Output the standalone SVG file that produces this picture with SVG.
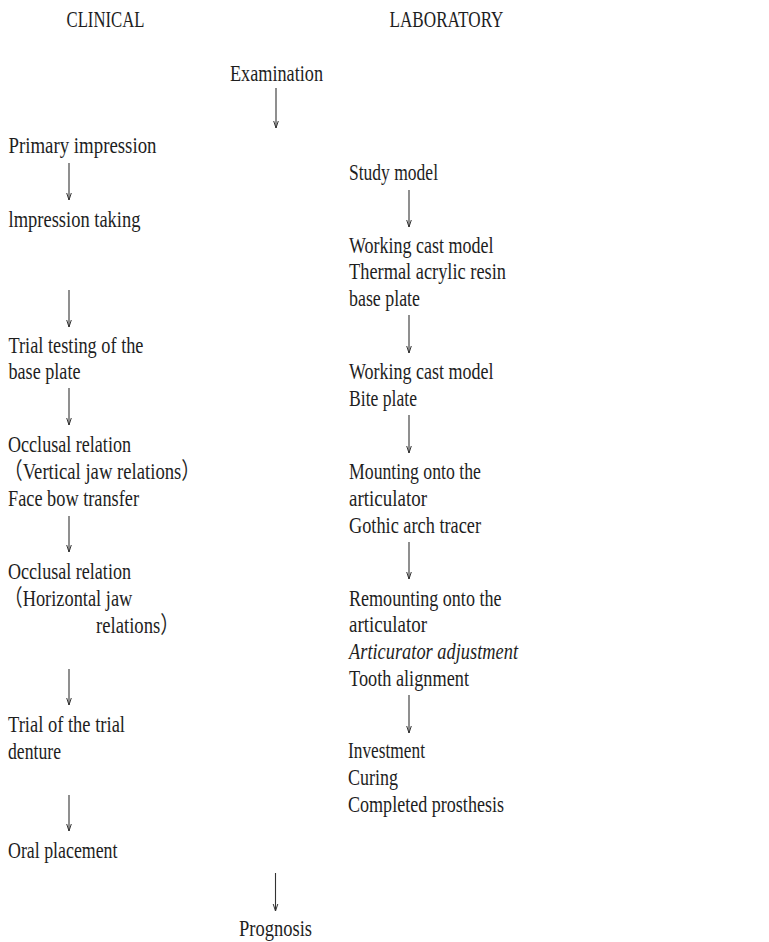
<svg xmlns="http://www.w3.org/2000/svg" width="769" height="942" viewBox="0 0 769 942">
<style>
  text { font-family: "Liberation Serif", "Noto Sans CJK JP", serif; font-size: 23px; fill: #1e1e1e; }
  .it { font-style: italic; }
  .arrow { stroke: #333; stroke-width: 1.1; fill: none; }
</style>
<defs>
  <marker id="ah" markerWidth="10" markerHeight="8" refX="7" refY="0" orient="auto" markerUnits="userSpaceOnUse" viewBox="-1 -4 10 8">
    <path d="M0,-2.3 L7,0 L0,2.3" fill="none" stroke="#333" stroke-width="1"/>
  </marker>
</defs>
<rect width="769" height="942" fill="#ffffff"/>

<g id="header-clinical"><text x="66.5" y="27" textLength="78" lengthAdjust="spacingAndGlyphs">CLINICAL</text></g>
<g id="header-laboratory"><text x="389.5" y="27" textLength="114" lengthAdjust="spacingAndGlyphs">LABORATORY</text></g>

<g id="examination"><text x="230" y="81" textLength="93" lengthAdjust="spacingAndGlyphs">Examination</text></g>

<g id="primary-impression"><text x="8.5" y="153" textLength="148" lengthAdjust="spacingAndGlyphs">Primary impression</text></g>
<g id="impression-taking"><text x="8.5" y="227" textLength="132" lengthAdjust="spacingAndGlyphs">lmpression taking</text></g>
<g id="trial-testing">
  <text x="8.5" y="353" textLength="135" lengthAdjust="spacingAndGlyphs">Trial testing of the</text>
  <text x="8.5" y="379" textLength="72" lengthAdjust="spacingAndGlyphs">base plate</text>
</g>
<g id="occlusal-vertical">
  <text x="8" y="452" textLength="123" lengthAdjust="spacingAndGlyphs">Occlusal relation</text>
  <text x="4" y="479" textLength="196" lengthAdjust="spacingAndGlyphs">（Vertical jaw relations）</text>
  <text x="8" y="506" textLength="131" lengthAdjust="spacingAndGlyphs">Face bow transfer</text>
</g>
<g id="occlusal-horizontal">
  <text x="8" y="579" textLength="123" lengthAdjust="spacingAndGlyphs">Occlusal relation</text>
  <text x="4.3" y="606" textLength="128" lengthAdjust="spacingAndGlyphs">（Horizontal jaw</text>
  <text x="96" y="633" textLength="83" lengthAdjust="spacingAndGlyphs">relations）</text>
</g>
<g id="trial-denture">
  <text x="8" y="732" textLength="117" lengthAdjust="spacingAndGlyphs">Trial of the trial</text>
  <text x="8" y="759" textLength="53" lengthAdjust="spacingAndGlyphs">denture</text>
</g>
<g id="oral-placement"><text x="8" y="858" textLength="109.5" lengthAdjust="spacingAndGlyphs">Oral placement</text></g>

<g id="study-model"><text x="349" y="180" textLength="89" lengthAdjust="spacingAndGlyphs">Study model</text></g>
<g id="working-cast-1">
  <text x="349" y="253" textLength="144.5" lengthAdjust="spacingAndGlyphs">Working cast model</text>
  <text x="349" y="279" textLength="157" lengthAdjust="spacingAndGlyphs">Thermal acrylic resin</text>
  <text x="349" y="306" textLength="71" lengthAdjust="spacingAndGlyphs">base plate</text>
</g>
<g id="working-cast-2">
  <text x="349" y="379" textLength="144.5" lengthAdjust="spacingAndGlyphs">Working cast model</text>
  <text x="349" y="406" textLength="68" lengthAdjust="spacingAndGlyphs">Bite plate</text>
</g>
<g id="mounting">
  <text x="349" y="479" textLength="132" lengthAdjust="spacingAndGlyphs">Mounting onto the</text>
  <text x="349" y="506" textLength="78" lengthAdjust="spacingAndGlyphs">articulator</text>
  <text x="349" y="533" textLength="132" lengthAdjust="spacingAndGlyphs">Gothic arch tracer</text>
</g>
<g id="remounting">
  <text x="349" y="606" textLength="152.5" lengthAdjust="spacingAndGlyphs">Remounting onto the</text>
  <text x="349" y="632" textLength="78" lengthAdjust="spacingAndGlyphs">articulator</text>
  <text class="it" x="349" y="659" textLength="169" lengthAdjust="spacingAndGlyphs">Articurator adjustment</text>
  <text x="349" y="686" textLength="120" lengthAdjust="spacingAndGlyphs">Tooth alignment</text>
</g>
<g id="investment">
  <text x="348" y="758" textLength="77" lengthAdjust="spacingAndGlyphs">Investment</text>
  <text x="348" y="785" textLength="50" lengthAdjust="spacingAndGlyphs">Curing</text>
  <text x="348" y="812" textLength="156" lengthAdjust="spacingAndGlyphs">Completed prosthesis</text>
</g>

<g id="prognosis"><text x="239" y="936" textLength="73" lengthAdjust="spacingAndGlyphs">Prognosis</text></g>

<g id="connectors">
  <line class="arrow" x1="276" y1="88" x2="276" y2="128" marker-end="url(#ah)"/>
  <line class="arrow" x1="69" y1="163" x2="69" y2="200" marker-end="url(#ah)"/>
  <line class="arrow" x1="69" y1="290" x2="69" y2="327" marker-end="url(#ah)"/>
  <line class="arrow" x1="69" y1="388" x2="69" y2="425" marker-end="url(#ah)"/>
  <line class="arrow" x1="69" y1="516" x2="69" y2="552" marker-end="url(#ah)"/>
  <line class="arrow" x1="69" y1="669" x2="69" y2="705" marker-end="url(#ah)"/>
  <line class="arrow" x1="69" y1="795" x2="69" y2="831" marker-end="url(#ah)"/>
  <line class="arrow" x1="275.5" y1="873" x2="275.5" y2="911" marker-end="url(#ah)"/>
  <line class="arrow" x1="409" y1="190" x2="409" y2="227" marker-end="url(#ah)"/>
  <line class="arrow" x1="409" y1="315" x2="409" y2="353" marker-end="url(#ah)"/>
  <line class="arrow" x1="409" y1="415" x2="409" y2="453" marker-end="url(#ah)"/>
  <line class="arrow" x1="409" y1="542" x2="409" y2="579" marker-end="url(#ah)"/>
  <line class="arrow" x1="409" y1="695" x2="409" y2="733" marker-end="url(#ah)"/>
</g>
</svg>
